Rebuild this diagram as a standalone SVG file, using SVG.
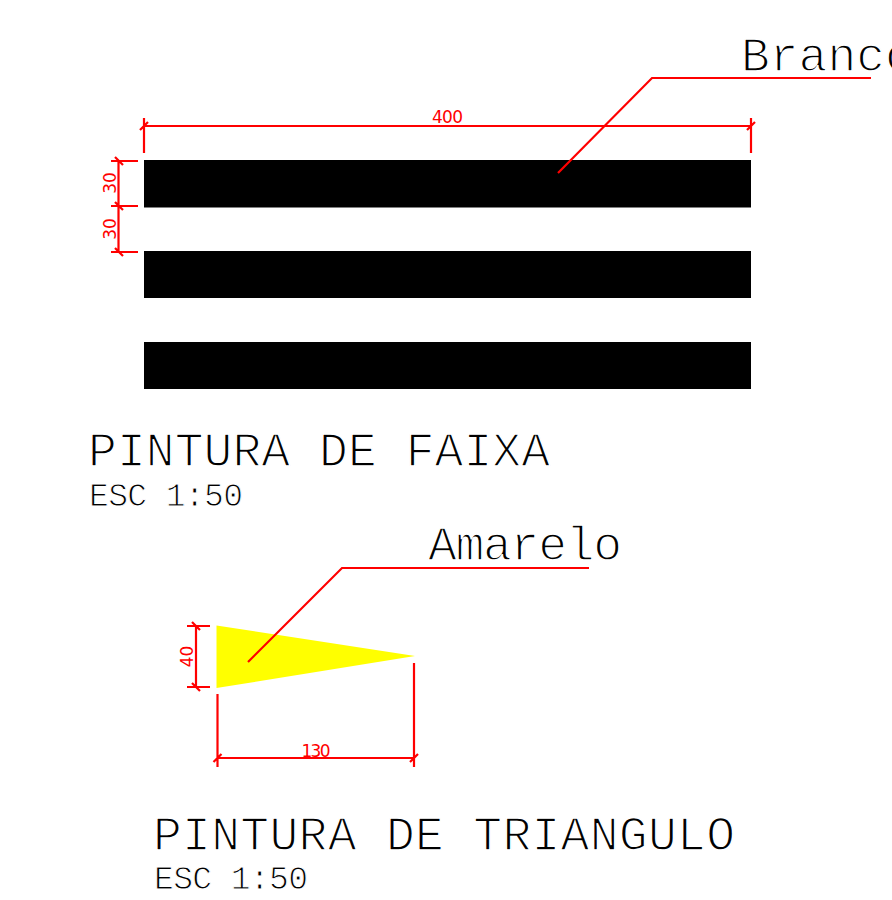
<svg xmlns="http://www.w3.org/2000/svg" width="892" height="900" viewBox="0 0 892 900">
<style>
.d{fill:none;stroke:#ff0000;stroke-width:2.200}
.t{fill:#000;stroke:#fff;paint-order:fill;font-family:"Liberation Mono",monospace}
.l{font-size:48px;stroke-width:1.500}
.s{font-size:33px;stroke-width:1}
.r{fill:#ff0000;font-family:"DejaVu Sans",sans-serif;font-size:17px}
</style>
<rect width="892" height="900" fill="#fff"/>
<g id="faixa-1"><rect x="144" y="160" width="607" height="47.500" fill="#000"/></g>
<g id="faixa-2"><rect x="144" y="251" width="607" height="47" fill="#000"/></g>
<g id="faixa-3"><rect x="144" y="342" width="607" height="47" fill="#000"/></g>
<g id="triangulo"><polygon points="216.500,625.500 415,656 216.500,688" fill="#ffff00"/></g>
<g id="connectors">
<path class="d" d="M144 118V153M751 118V153M144 126H751M140 130L148 122M747 130L755 122"/>
<path class="d" d="M111 161H138M111 206H138M111 252H138M118.500 161V252M115 157L123 165M115 202L123 210M115 248L123 256"/>
<path class="d" d="M558 173L652 78H871"/>
<path class="d" d="M187 626H210M187 687H210M196 626V687M192 622L200 630M192 683L200 691"/>
<path class="d" d="M217.500 694V767M414 663V767M217.500 758H414M213.500 762L221.500 754M410 762L418 754"/>
<path class="d" d="M248 662L342 568H589"/>
</g>
<g id="rotulos-cotas">
<text class="r" x="447.500" y="122.500" text-anchor="middle" textLength="31">400</text>
<text class="r" x="316" y="756.500" text-anchor="middle" textLength="29">130</text>
<text class="r" transform="translate(116 183) rotate(-90)" text-anchor="middle">30</text>
<text class="r" transform="translate(116 229) rotate(-90)" text-anchor="middle">30</text>
<text class="r" transform="translate(193 656.500) rotate(-90)" text-anchor="middle">40</text>
</g>
<g id="titulos">
<text class="t l" x="741" y="71">Branco</text>
<text class="t l" x="88" y="466" textLength="462">PINTURA DE FAIXA</text>
<text class="t s" x="89" y="506" textLength="154">ESC 1:50</text>
<text class="t l" x="428" y="560" textLength="194">Amarelo</text>
<text class="t l" x="153" y="850" textLength="582">PINTURA DE TRIANGULO</text>
<text class="t s" x="154" y="889" textLength="154">ESC 1:50</text>
</g>
</svg>
